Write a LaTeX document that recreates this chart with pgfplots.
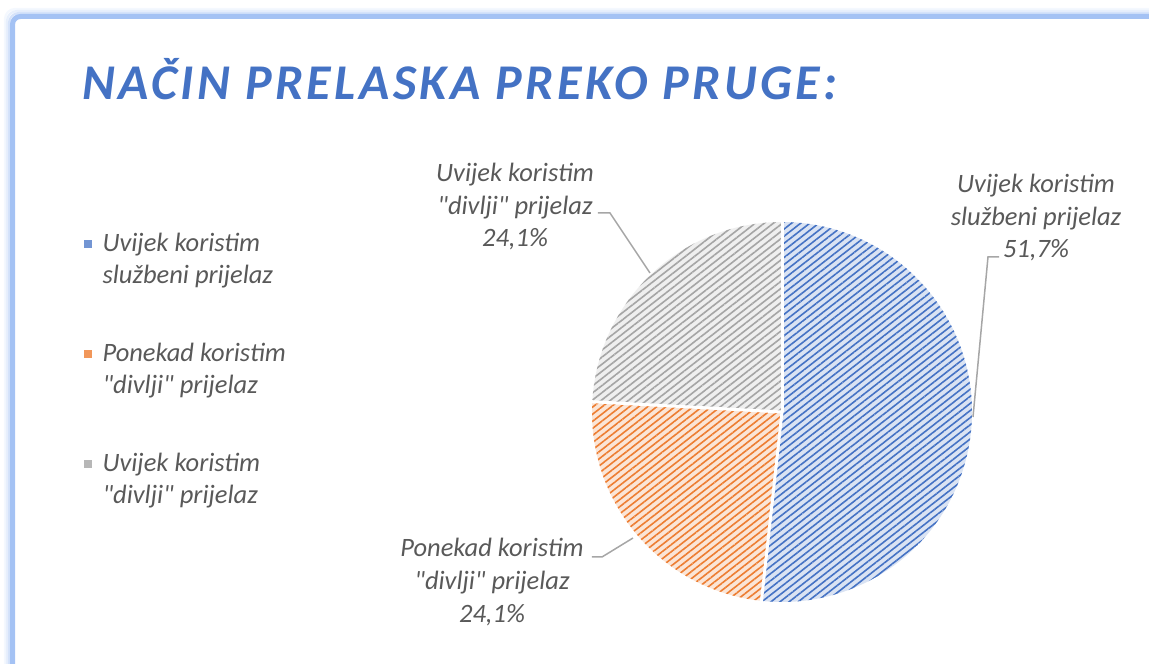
\documentclass[border=0pt]{standalone}
\usepackage{pgfplots}
\pgfplotsset{compat=1.18}
\usepackage{pgfplotstable}
\usepackage{fontspec}
\setmainfont{Carlito}[Ligatures=TeXOff]
\usetikzlibrary{patterns.meta}

\definecolor{bluS}{HTML}{4472C4}
\definecolor{bluL}{HTML}{DAE3F3}
\definecolor{oraS}{HTML}{ED7D31}
\definecolor{oraL}{HTML}{FBE5D6}
\definecolor{graS}{HTML}{A5A5A5}
\definecolor{graL}{HTML}{EFEFEF}
\definecolor{txt}{HTML}{595959}
\definecolor{frm}{HTML}{A4C2F4}
\definecolor{lead}{HTML}{A6A6A6}

% counts per answer (shares 51,7 / 24,1 / 24,1 %)
\pgfplotstableread{
slice value
1 15
2 7
3 7
}\piedata

\begin{document}
\begin{tikzpicture}[x=1pt,y=1pt]
\useasboundingbox (0,0) rectangle (1149,664);
% frame with glow
\foreach \o/\op in {10/0.12,8/0.25,6/0.45,4/0.7}{
  \draw[frm, line width=2.2, opacity=\op, rounded corners=10] (15-\o,-60) -- (15-\o,664-19+\o) -- (1260,664-19+\o);
}
\draw[frm, line width=5, rounded corners=8] (12.5,-60) -- (12.5,664-16.5) -- (1260,664-16.5);

\node[anchor=base west, inner sep=0, text=bluS,
  font=\fontsize{50}{60}\selectfont\bfseries\itshape\addfontfeature{LetterSpace=7}]
  at (82,664-100) {NAČIN PRELASKA PREKO PRUGE:};

\pgfplotstablegetelem{0}{value}\of\piedata \let\vA\pgfplotsretval
\pgfplotstablegetelem{1}{value}\of\piedata \let\vB\pgfplotsretval
\pgfplotstablegetelem{2}{value}\of\piedata \let\vC\pgfplotsretval
\pgfmathsetmacro\tot{\vA+\vB+\vC}
\pgfmathsetmacro\aA{90}
\pgfmathsetmacro\aB{\aA-360*\vA/\tot}
\pgfmathsetmacro\aC{\aB-360*\vB/\tot}
\pgfmathsetmacro\aD{\aC-360*\vC/\tot}
\pgfmathsetmacro\pA{100*\vA/\tot}
\pgfmathsetmacro\pB{100*\vB/\tot}
\pgfmathsetmacro\pC{100*\vC/\tot}

\begin{axis}[at={(782,252)}, anchor=center, scale only axis,
  width=380pt, height=380pt, xmin=-190, xmax=190, ymin=-190, ymax=190,
  hide axis, clip=false,
  legend style={at={(axis cs:-698,179)}, anchor=north west, draw=none, fill=none,
    inner sep=0pt, row sep=58pt,
    nodes={align=left, text=txt, font=\fontsize{26.5}{32}\selectfont\itshape, inner sep=0pt, inner xsep=11pt},
    legend cell align=left},
  ]
\addlegendimage{legend image code/.code={\fill[bluS!75!white] (0pt,12pt) rectangle (7pt,19pt);}}
\addlegendentry{Uvijek koristim\\službeni prijelaz}
\addlegendimage{legend image code/.code={\fill[oraS!80!white] (0pt,12pt) rectangle (7pt,19pt);}}
\addlegendentry{Ponekad koristim\\"divlji" prijelaz}
\addlegendimage{legend image code/.code={\fill[graS!80!white] (0pt,12pt) rectangle (7pt,19pt);}}
\addlegendentry{Uvijek koristim\\"divlji" prijelaz}

\fill[bluL, postaction={pattern={Lines[angle=38,distance=5.6pt,line width=1.6pt]}, pattern color=bluS}]
  (axis cs:0,0) -- ++(\aA:190pt) arc[start angle=\aA, end angle=\aB, radius=190pt] -- cycle;
\fill[oraL, postaction={pattern={Lines[angle=38,distance=5.6pt,line width=1.6pt]}, pattern color=oraS}]
  (axis cs:0,0) -- ++(\aB:190pt) arc[start angle=\aB, end angle=\aC, radius=190pt] -- cycle;
\fill[graL, postaction={pattern={Lines[angle=38,distance=5.6pt,line width=1.6pt]}, pattern color=graS}]
  (axis cs:0,0) -- ++(\aC:190pt) arc[start angle=\aC, end angle=\aD, radius=190pt] -- cycle;
\draw[white, line width=3pt] (axis cs:0,0) -- ++(\aA:191pt);
\draw[white, line width=3pt] (axis cs:0,0) -- ++(\aB:191pt);
\draw[white, line width=3pt] (axis cs:0,0) -- ++(\aC:191pt);

% leader lines
\draw[lead, line width=1.5pt] (axis cs:217,155) -- (axis cs:206,155) -- (axis cs:191,-5);
\draw[lead, line width=1.5pt] (axis cs:-184,199) -- (axis cs:-172,199) -- (axis cs:-132,139);
\draw[lead, line width=1.5pt] (axis cs:-190,-145) -- (axis cs:-180,-145) -- (axis cs:-149,-126);

% data labels
\tikzset{plab/.style={anchor=base, align=center, text=txt, font=\fontsize{26.5}{32.5}\selectfont\itshape, inner sep=0}}
\node[plab] at (axis cs:254,154) {Uvijek koristim\\službeni prijelaz\\\pgfmathprintnumber[fixed,precision=1,use comma,assume math mode=true]{\pA}\%};
\node[plab] at (axis cs:-267,165) {Uvijek koristim\\"divlji" prijelaz\\\pgfmathprintnumber[fixed,precision=1,use comma,assume math mode=true]{\pC}\%};
\node[plab] at (axis cs:-290,-210) {Ponekad koristim\\"divlji" prijelaz\\\pgfmathprintnumber[fixed,precision=1,use comma,assume math mode=true]{\pB}\%};
\end{axis}
\end{tikzpicture}
\end{document}
